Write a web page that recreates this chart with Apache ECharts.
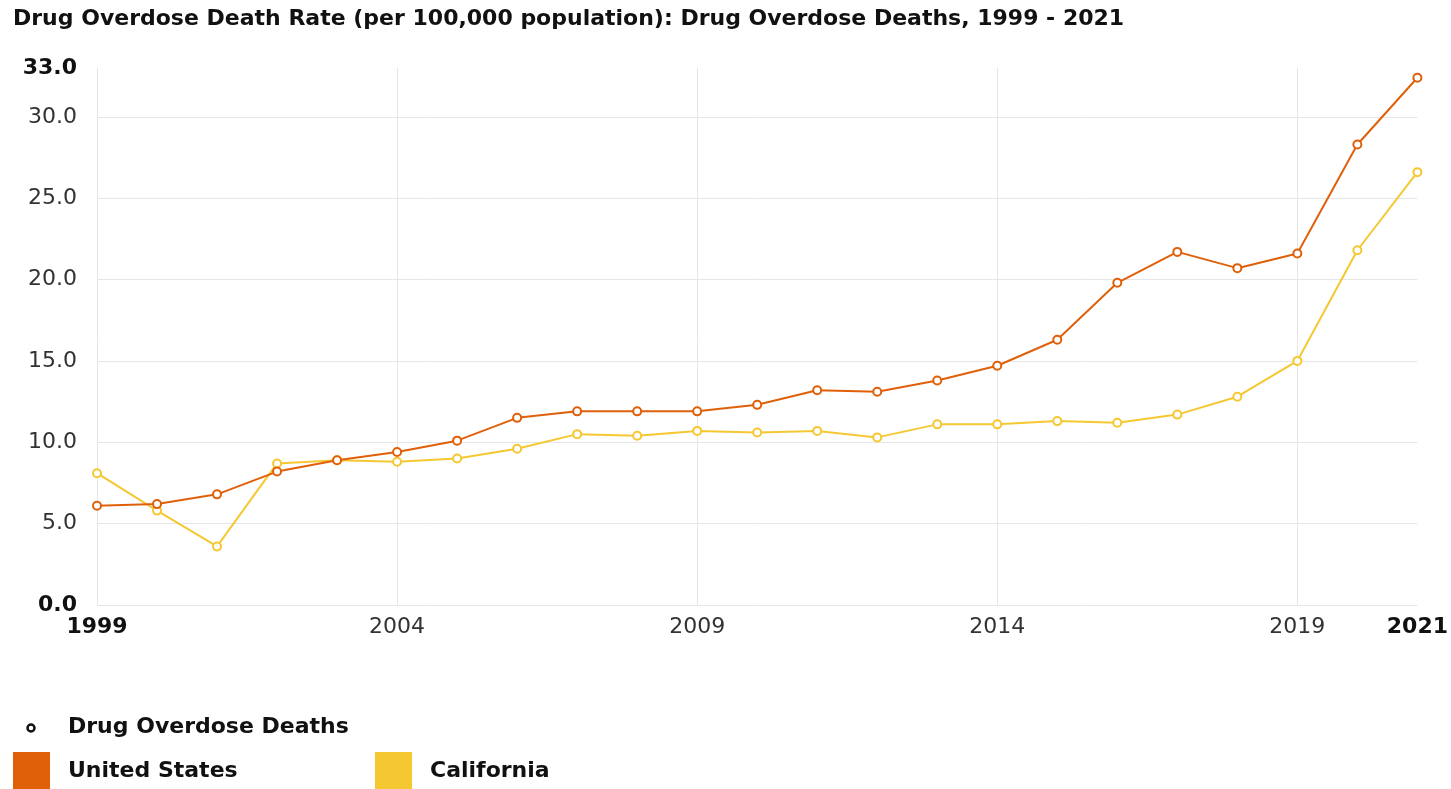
<!DOCTYPE html>
<html><head><meta charset="utf-8">
<script src="https://cdn.jsdelivr.net/npm/echarts@6/dist/echarts.min.js"></script>
<style>html,body{margin:0;padding:0;background:#fff}#c{width:1451px;height:789px}</style>
</head><body><div id="c"></div>
<script>
const years = [1999,2000,2001,2002,2003,2004,2005,2006,2007,2008,2009,2010,2011,2012,2013,2014,2015,2016,2017,2018,2019,2020,2021];
const usValues = [6.1,6.2,6.8,8.2,8.9,9.4,10.1,11.5,11.9,11.9,11.9,12.3,13.2,13.1,13.8,14.7,16.3,19.8,21.7,20.7,21.6,28.3,32.4];
const caValues = [8.1,5.8,3.6,8.7,8.9,8.8,9.0,9.6,10.5,10.4,10.7,10.6,10.7,10.3,11.1,11.1,11.3,11.2,11.7,12.8,15.0,21.8,26.6];
const seriesNames = ['United States','California'];
const titleText = 'Drug Overdose Death Rate (per 100,000 population): Drug Overdose Deaths, 1999 - 2021';
const measureName = 'Drug Overdose Deaths';

const US_COLOR = '#e0600a';
const CA_COLOR = '#f5c832';
const FONT = 'DejaVu Sans';
const FS = 22;
const grid = '#e6e6e6';

const chart = echarts.init(document.getElementById('c'), null, {renderer:'canvas'});
const pairs = v => years.map((y,i)=>[y,v[i]]);
chart.setOption({
  animation:false,
  backgroundColor:'#fff',
  title:{text:titleText,left:8,top:3,textStyle:{fontFamily:FONT,fontSize:FS,fontWeight:'bold',color:'#111'}},
  grid:{left:97,right:33,top:68,bottom:184,containLabel:false},
  xAxis:{type:'value',min:1999,max:2021,interval:5,
    axisLine:{show:false},axisTick:{show:false},
    splitLine:{show:true,lineStyle:{color:[grid,grid,grid,grid,grid,'transparent'],width:1}},
    axisLabel:{margin:11,fontFamily:FONT,fontSize:FS,color:'#333',
      formatter:v=>(v===1999||v===2021)?'{b|'+v+'}':String(v),
      rich:{b:{fontFamily:FONT,fontSize:FS,fontWeight:'bold',color:'#111'}}}},
  yAxis:{type:'value',min:0,max:33,interval:5,
    axisLine:{show:false},axisTick:{show:false},
    splitLine:{show:true,lineStyle:{color:[grid,grid,grid,grid,grid,grid,grid,'transparent'],width:1}},
    axisLabel:{margin:20,fontFamily:FONT,fontSize:FS,color:'#333',
      formatter:v=>(v===0||v===33)?'{b|'+v.toFixed(1)+'}':v.toFixed(1),
      rich:{b:{fontFamily:FONT,fontSize:FS,fontWeight:'bold',color:'#111'}}}},
  legend:[
    {data:[seriesNames[0]],left:8,top:747,itemWidth:35,itemHeight:36,icon:'rect',selectedMode:false,
     textStyle:{fontFamily:FONT,fontSize:FS,fontWeight:'bold',color:'#111',padding:[0,0,0,14]}},
    {data:[seriesNames[1]],left:370,top:747,itemWidth:35,itemHeight:36,icon:'rect',selectedMode:false,
     textStyle:{fontFamily:FONT,fontSize:FS,fontWeight:'bold',color:'#111',padding:[0,0,0,14]}}
  ],
  graphic:[
    {type:'circle',shape:{cx:31,cy:728,r:3.5},style:{fill:'#fff',stroke:'#111',lineWidth:2.5}},
    {type:'text',left:68,top:716,style:{text:measureName,fontFamily:FONT,fontSize:FS,fontWeight:'bold',fill:'#111'}}
  ],
  series:[
    {name:seriesNames[1],type:'line',data:pairs(caValues),color:CA_COLOR,symbol:'emptyCircle',symbolSize:8,
     lineStyle:{width:2,color:CA_COLOR},itemStyle:{color:CA_COLOR,borderWidth:2,borderColor:CA_COLOR},z:2},
    {name:seriesNames[0],type:'line',data:pairs(usValues),color:US_COLOR,symbol:'emptyCircle',symbolSize:8,
     lineStyle:{width:2,color:US_COLOR},itemStyle:{color:US_COLOR,borderWidth:2,borderColor:US_COLOR},z:3}
  ]
});
</script></body></html>
